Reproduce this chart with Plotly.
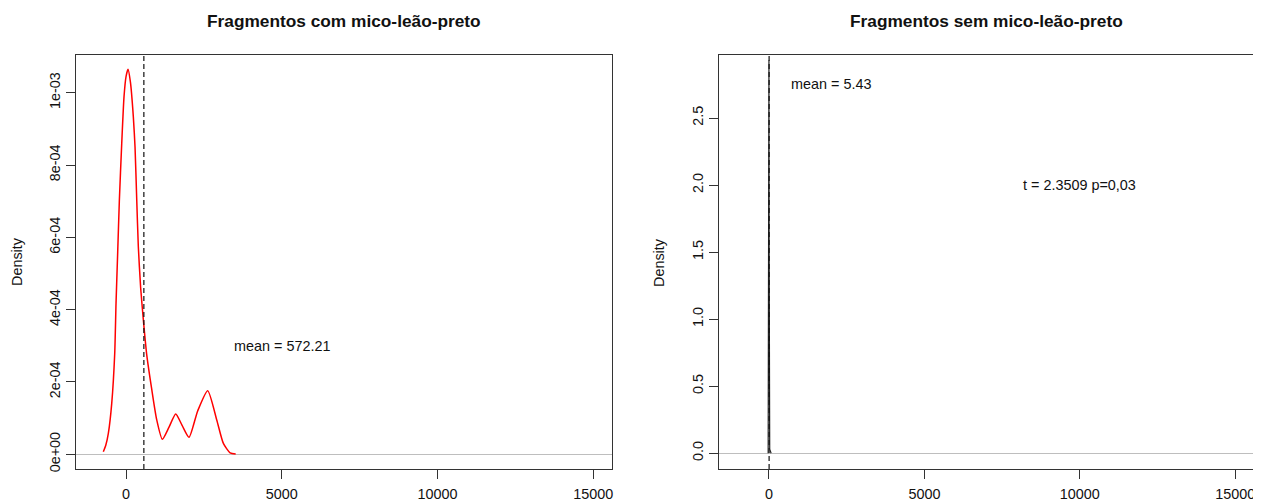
import plotly.graph_objects as go

# ---------------- data ----------------
left_title = "Fragmentos com mico-leão-preto"
right_title = "Fragmentos sem mico-leão-preto"

left_x = [-729, -650, -568, -459, -363, -321, -267, -215, -138, -64, 0, 64, 140, 234, 289, 344, 395,
          470, 556, 665, 825, 986, 1166, 1380, 1595, 1800, 2022, 2300, 2622, 2912, 3125, 3340, 3520]
left_y = [7e-6, 2.5e-5, 5.8e-5, 1.41e-4, 2.79e-4, 4.18e-4, 5.6e-4, 7.0e-4, 8.6e-4, 9.9e-4, 1.045e-3,
          1.065e-3, 1.03e-3, 9.34e-4, 8.5e-4, 7.03e-4, 5.74e-4, 4.6e-4, 3.72e-4, 2.75e-4, 1.8e-4,
          9.5e-5, 4.15e-5, 7.5e-5, 1.115e-4, 8.0e-5, 4.7e-5, 1.2e-4, 1.76e-4, 9.5e-5, 3.0e-5, 4e-6, 1e-6]
left_mean = 572.21

right_x = [-25, -6, 0, 6, 25, 70]
right_y = [0, 1.6, 2.93, 1.6, 0.03, 0]
right_mean = 5.43

x_ticks = [0, 5000, 10000, 15000]
x_ticklabels = ["0", "5000", "10000", "15000"]
left_yticks = [0, 2e-4, 4e-4, 6e-4, 8e-4, 1e-3]
left_yticklabels = ["0e+00", "2e-04", "4e-04", "6e-04", "8e-04", "1e-03"]
right_yticks = [0, 0.5, 1.0, 1.5, 2.0, 2.5]
right_yticklabels = ["0.0", "0.5", "1.0", "1.5", "2.0", "2.5"]

left_label = ("mean = 572.21", 5000, 3e-4)
right_labels = [("mean = 5.43", 2000, 2.75), ("t = 2.3509 p=0,03", 10000, 2.0)]

# ---------------- layout geometry ----------------
OFF = 8                      # default page body margin
W, H = 1261 - OFF, 502 - OFF
FONT = "Liberation Sans, Arial, sans-serif"
AX = "#333333"

def px_x(p):
    return (p - OFF) / W

def px_y(p):
    return 1 - (p - OFF) / H

fig = go.Figure()

fig.add_trace(go.Scatter(x=left_x, y=left_y, mode="lines", xaxis="x", yaxis="y",
                         line=dict(color="#FF0000", width=1.5, shape="spline", smoothing=0.6),
                         hoverinfo="skip", showlegend=False))
fig.add_trace(go.Scatter(x=right_x, y=right_y, mode="lines", xaxis="x2", yaxis="y2",
                         line=dict(color="#222222", width=1.2),
                         hoverinfo="skip", showlegend=False))

common_x = dict(showgrid=False, zeroline=False, showline=True, mirror=True, linecolor=AX,
                linewidth=1.3, ticks="outside", ticklen=9, tickcolor=AX, tickwidth=1,
                tickvals=x_ticks, ticktext=x_ticklabels, range=[-1606, 15600], automargin=False,
                tickfont=dict(family=FONT, size=14.4, color="#111"), ticklabelstandoff=3)
common_y = dict(showgrid=False, zeroline=True, zerolinecolor="#BEBEBE", zerolinewidth=1.2,
                showline=True, mirror=True, linecolor=AX, linewidth=1.3, ticks="outside",
                ticklen=9, tickcolor=AX, tickwidth=1, tickangle=-90, automargin=False,
                tickfont=dict(family=FONT, size=14.4, color="#111"), ticklabelstandoff=0)

fig.update_layout(
    width=W, height=H, margin=dict(l=0, r=0, t=0, b=0, autoexpand=False),
    paper_bgcolor="white", plot_bgcolor="white",
    xaxis=dict(domain=[px_x(76), px_x(612)], anchor="y", **common_x),
    yaxis=dict(domain=[px_y(469), px_y(55)], anchor="x", range=[-4.07e-5, 1.1046e-3],
               tickvals=left_yticks, ticktext=left_yticklabels, **common_y),
    xaxis2=dict(domain=[px_x(719), px_x(1254)], anchor="y2", **common_x),
    yaxis2=dict(domain=[px_y(469), px_y(55)], anchor="x2", range=[-0.118, 2.97],
                tickvals=right_yticks, ticktext=right_yticklabels, **common_y),
)

# mean lines
fig.add_shape(type="line", xref="x", yref="y domain", x0=left_mean, x1=left_mean, y0=0, y1=1,
              line=dict(color="#111111", width=1.2, dash="5px,3px"))
fig.add_shape(type="line", xref="x2", yref="y2 domain", x0=right_mean, x1=right_mean, y0=0, y1=1,
              line=dict(color="#111111", width=1.2, dash="5px,3px"))

annotations = []
# titles
annotations.append(dict(text="<b>" + left_title + "</b>", xref="paper", yref="paper",
                        x=px_x(344), y=px_y(21), xanchor="center", yanchor="middle",
                        showarrow=False, font=dict(family=FONT, size=17.3, color="#111")))
annotations.append(dict(text="<b>" + right_title + "</b>", xref="paper", yref="paper",
                        x=px_x(986), y=px_y(21), xanchor="center", yanchor="middle",
                        showarrow=False, font=dict(family=FONT, size=17.3, color="#111")))
# y titles
for xp in (17, 659):
    annotations.append(dict(text="Density", xref="paper", yref="paper", x=px_x(xp), y=px_y(262),
                            xanchor="center", yanchor="middle", textangle=-90, showarrow=False,
                            font=dict(family=FONT, size=14.4, color="#111")))
# text labels
annotations.append(dict(text=left_label[0], xref="x", yref="y", x=left_label[1], y=left_label[2],
                        xanchor="center", yanchor="middle", showarrow=False,
                        font=dict(family=FONT, size=14.4, color="#111")))
for t, xv, yv in right_labels:
    annotations.append(dict(text=t, xref="x2", yref="y2", x=xv, y=yv,
                            xanchor="center", yanchor="middle", showarrow=False,
                            font=dict(family=FONT, size=14.4, color="#111")))

fig.update_layout(annotations=annotations)

fig.write_html("out.html")
